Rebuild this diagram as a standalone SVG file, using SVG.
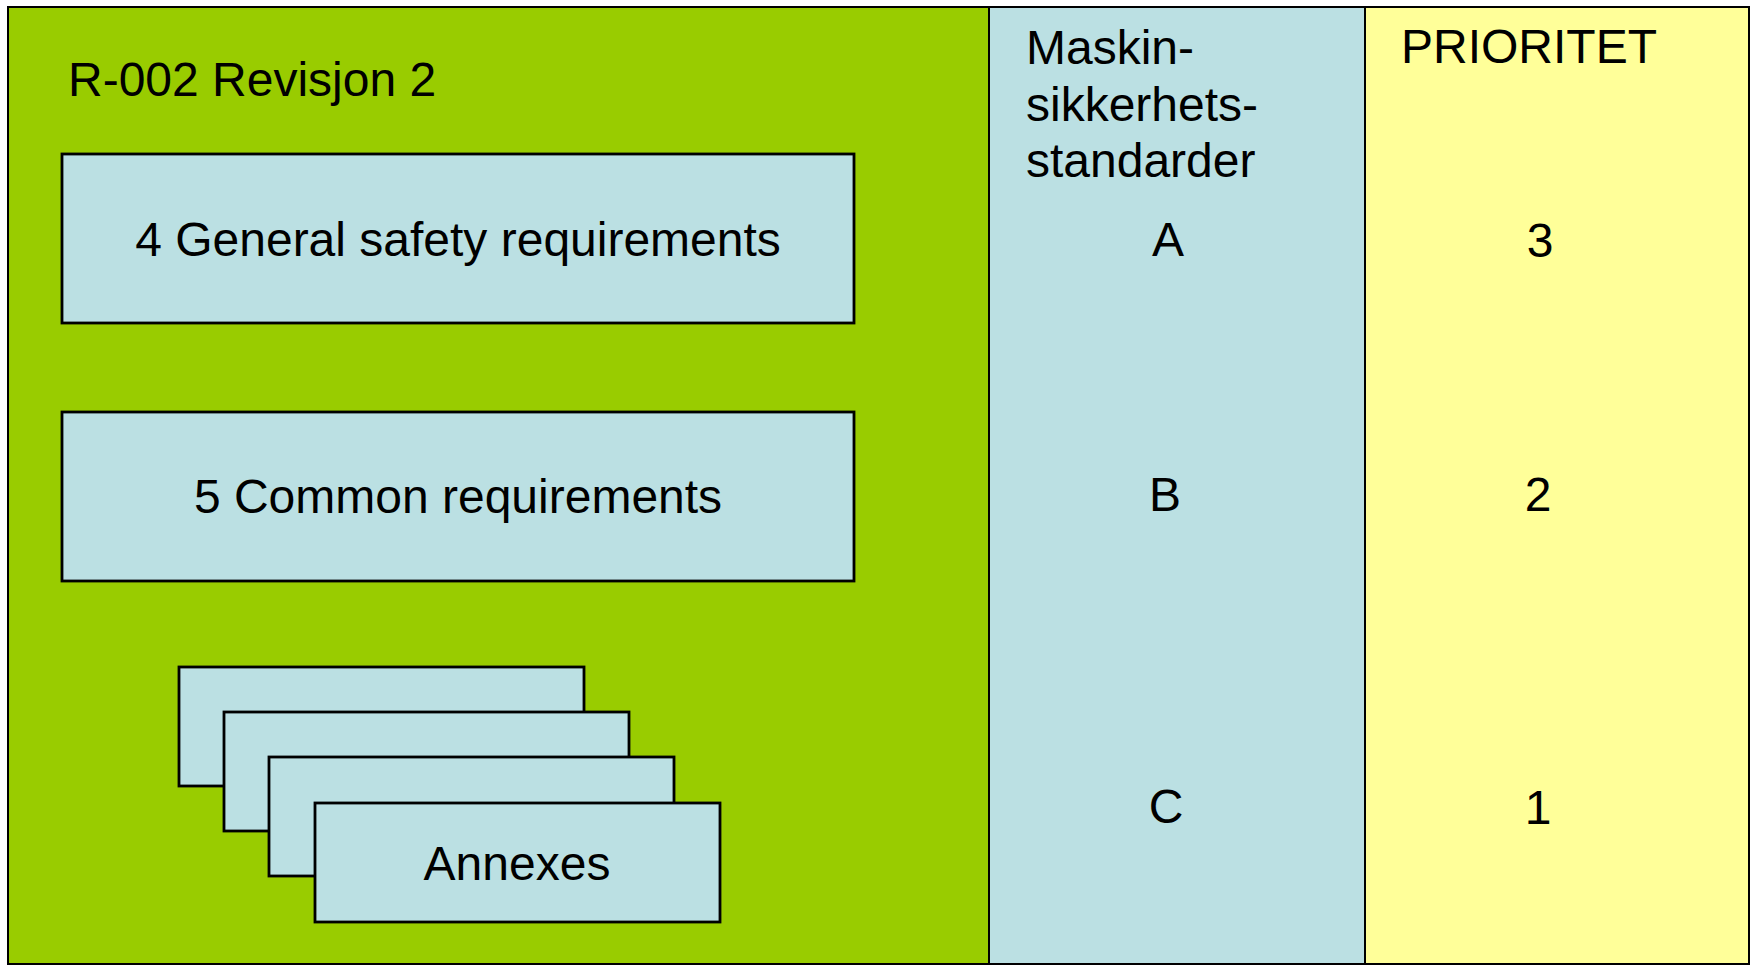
<svg xmlns="http://www.w3.org/2000/svg" width="1752" height="966" viewBox="0 0 1752 966">
<style>
.t{font-family:"Liberation Sans",Arial,sans-serif;font-size:48px;fill:#000}
.c{text-anchor:middle}
.box{fill:#BBE0E3;stroke:#000;stroke-width:2.8}
.col{stroke:#000;stroke-width:2}
</style>
<rect width="1752" height="966" fill="#fff"/>
<g id="panel-r002">
<rect class="col" x="8" y="7" width="981" height="957" fill="#99CC00"/>
<text class="t" x="68" y="96">R-002 Revisjon 2</text>
</g>
<g id="col-standards">
<rect class="col" x="989" y="7" width="376" height="957" fill="#BBE0E3"/>
<text class="t" x="1026" y="64">Maskin-</text>
<text class="t" x="1026" y="121">sikkerhets-</text>
<text class="t" x="1026" y="177">standarder</text>
<text class="t c" x="1168" y="256">A</text>
<text class="t c" x="1165" y="511">B</text>
<text class="t c" x="1166" y="823">C</text>
</g>
<g id="col-priority">
<rect class="col" x="1365" y="7" width="384" height="957" fill="#FFFF99"/>
<text class="t" x="1401" y="63">PRIORITET</text>
<text class="t c" x="1540" y="257">3</text>
<text class="t c" x="1538" y="511">2</text>
<text class="t c" x="1538" y="824">1</text>
</g>
<g id="node-general">
<rect class="box" x="62" y="154" width="792" height="169"/>
<text class="t c" x="458" y="256">4 General safety requirements</text>
</g>
<g id="node-common">
<rect class="box" x="62" y="412" width="792" height="169"/>
<text class="t c" x="458" y="513">5 Common requirements</text>
</g>
<g id="node-annexes">
<rect class="box" x="179" y="667" width="405" height="119"/>
<rect class="box" x="224" y="712" width="405" height="119"/>
<rect class="box" x="269" y="757" width="405" height="119"/>
<rect class="box" x="315" y="803" width="405" height="119"/>
<text class="t c" x="517" y="880">Annexes</text>
</g>
<g id="connectors"></g>
</svg>
